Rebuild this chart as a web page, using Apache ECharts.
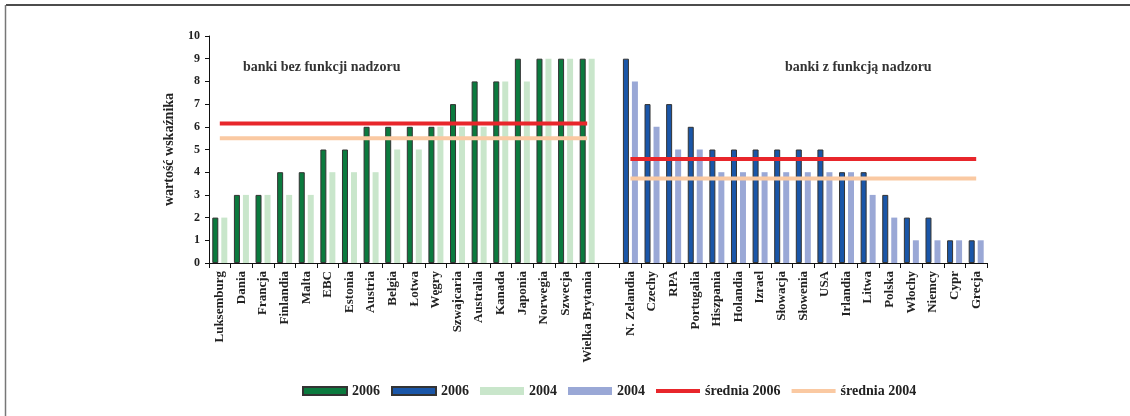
<!DOCTYPE html>
<html>
<head>
<meta charset="utf-8">
<script src="https://cdn.jsdelivr.net/npm/echarts@6/dist/echarts.min.js"></script>
<style>
 html, body { margin: 0; padding: 0; background: #fff; }
 #chart { width: 1130px; height: 416px; }
</style>
</head>
<body>
<div id="chart"></div>
<script>
const leftCountries = ['Luksemburg', 'Dania', 'Francja', 'Finlandia', 'Malta', 'EBC', 'Estonia', 'Austria', 'Belgia',
 'Łotwa', 'Węgry', 'Szwajcaria', 'Australia', 'Kanada', 'Japonia', 'Norwegia', 'Szwecja', 'Wielka Brytania']
const rightCountries = ['N. Zelandia', 'Czechy', 'RPA', 'Portugalia', 'Hiszpania', 'Holandia', 'Izrael', 'Słowacja',
 'Słowenia', 'USA', 'Irlandia', 'Litwa', 'Polska', 'Włochy', 'Niemcy', 'Cypr', 'Grecja']

const left2006 = [2, 3, 3, 4, 4, 5, 5, 6, 6, 6, 6, 7, 8, 8, 9, 9, 9, 9]
const left2004 = [2, 3, 3, 3, 3, 4, 4, 4, 5, 5, 6, 6, 6, 8, 8, 9, 9, 9]
const right2006 = [9, 7, 7, 6, 5, 5, 5, 5, 5, 5, 4, 4, 3, 2, 2, 1, 1]
const right2004 = [8, 6, 5, 5, 4, 4, 4, 4, 4, 4, 4, 3, 2, 1, 1, 1, 1]

const leftAvg2006 = 6.15
const leftAvg2004 = 5.5
const rightAvg2006 = 4.58
const rightAvg2004 = 3.72

const yTicks = [0, 10, 1] // min, max, interval

// one empty slot between the two groups
const categories = [...leftCountries, '', ...rightCountries]
const gap = ['-']
const blankLeft = leftCountries.map(() => '-')
const blankRight = rightCountries.map(() => '-')

const serif = '"Liberation Serif", "DejaVu Serif", serif'
// thin bar inside an 8px-high box, specks keep the bounding box
const lineIcon = 'path://M0,0L0.01,0L0.01,0.01Z M0,2H44V6H0Z M0,8L0.01,8L0.01,7.99Z'

const chart = echarts.init(document.getElementById('chart'))

const barBase = { type: 'bar', barWidth: 6, barGap: '50%' }

chart.setOption({
 animation: false,
 backgroundColor: '#fff',
 grid: { left: 209, right: 143, top: 36, bottom: 153, containLabel: false },
 legend: {
  left: 297,
  top: 379,
  itemWidth: 44,
  itemHeight: 8,
  itemGap: 11,
  textStyle: { fontFamily: serif, fontWeight: 'bold', fontSize: 14, color: '#222' },
  formatter: name => name.replace(/[ab]$/, ''),
  data: [
   { name: '2006a', icon: 'rect' },
   { name: '2006b', icon: 'rect' },
   { name: '2004a', icon: 'rect' },
   { name: '2004b', icon: 'rect' },
   { name: 'średnia 2006', icon: lineIcon },
   { name: 'średnia 2004', icon: lineIcon },
  ],
 },
 xAxis: {
  type: 'category',
  data: categories,
  axisLine: { lineStyle: { color: '#111', width: 1 } },
  axisTick: { show: true, length: 5, lineStyle: { color: '#111' } },
  axisLabel: {
   rotate: 90,
   interval: 0,
   margin: 8,
   fontFamily: serif,
   fontWeight: 'bold',
   fontSize: 13,
   color: '#222',
  },
 },
 yAxis: {
  type: 'value',
  min: yTicks[0],
  max: yTicks[1],
  interval: yTicks[2],
  name: 'wartość wskaźnika',
  nameLocation: 'middle',
  nameRotate: 90,
  nameGap: 33,
  nameTextStyle: { fontFamily: serif, fontWeight: 'bold', fontSize: 14, color: '#222' },
  splitLine: { show: false },
  axisLine: { show: true, lineStyle: { color: '#111' } },
  axisTick: { show: true, length: 4, lineStyle: { color: '#111' } },
  axisLabel: { fontFamily: serif, fontWeight: 'bold', fontSize: 12, color: '#222', margin: 9 },
 },
 graphic: [
  { type: 'line', shape: { x1: 6, y1: 5, x2: 1130, y2: 5 }, style: { stroke: '#111', lineWidth: 1.5 } },
  { type: 'line', shape: { x1: 5.5, y1: 5, x2: 5.5, y2: 416 }, style: { stroke: '#777', lineWidth: 1.5 } },
  { type: 'text', left: 243, top: 60, style: { text: 'banki bez funkcji nadzoru', font: 'bold 14px ' + serif, fill: '#333' } },
  { type: 'text', left: 785, top: 60, style: { text: 'banki z funkcją nadzoru', font: 'bold 14px ' + serif, fill: '#333' } },
 ],
 series: [
  {
   ...barBase, name: '2006a', stack: 's2006',
   data: [...left2006, ...gap, ...blankRight],
   itemStyle: { color: '#0b7a3e', borderColor: '#333', borderWidth: 1 },
  },
  {
   ...barBase, name: '2006b', stack: 's2006',
   data: [...blankLeft, ...gap, ...right2006],
   itemStyle: { color: '#1a56a8', borderColor: '#333', borderWidth: 1 },
  },
  {
   ...barBase, name: '2004a', stack: 's2004',
   data: [...left2004, ...gap, ...blankRight],
   itemStyle: { color: '#c9e6cb' },
  },
  {
   ...barBase, name: '2004b', stack: 's2004',
   data: [...blankLeft, ...gap, ...right2004],
   itemStyle: { color: '#9aa8d6' },
  },
  {
   type: 'line', name: 'średnia 2006', symbol: 'none', z: 5,
   data: [...leftCountries.map(() => leftAvg2006), ...gap, ...rightCountries.map(() => rightAvg2006)],
   lineStyle: { color: '#e8262b', width: 4 },
   itemStyle: { color: '#e8262b' },
  },
  {
   type: 'line', name: 'średnia 2004', symbol: 'none', z: 5,
   data: [...leftCountries.map(() => leftAvg2004), ...gap, ...rightCountries.map(() => rightAvg2004)],
   lineStyle: { color: '#fac9a2', width: 4 },
   itemStyle: { color: '#fac9a2' },
  },
 ],
})
</script>
</body>
</html>
